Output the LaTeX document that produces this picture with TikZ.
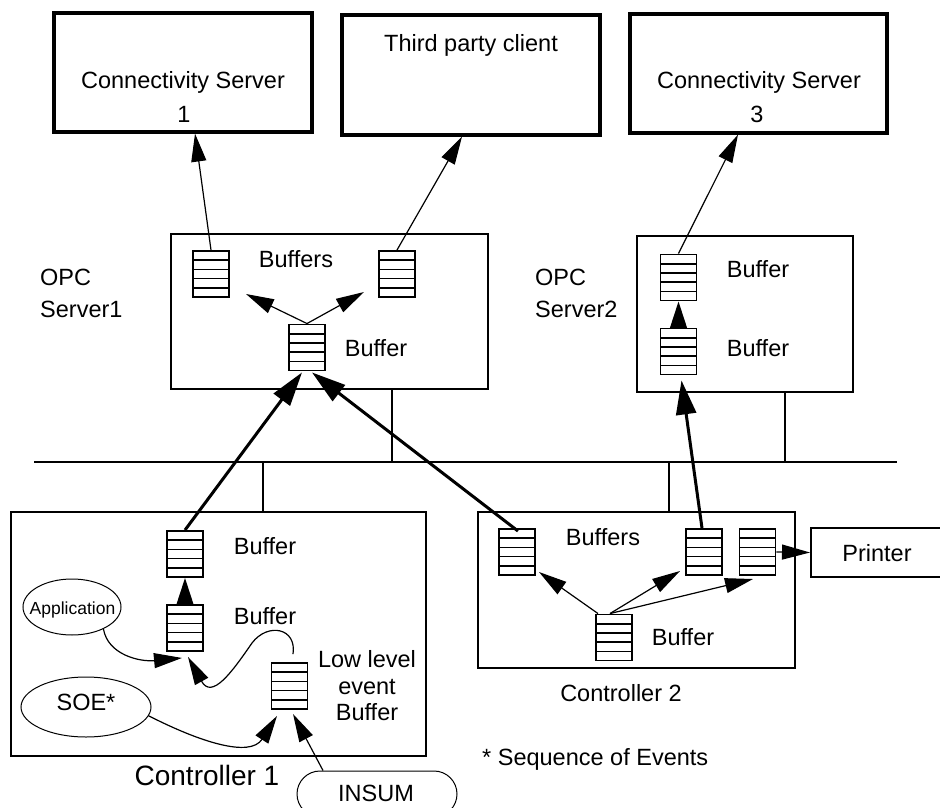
\documentclass[tikz,border=0pt]{standalone}
\usepackage{fontspec}
\setmainfont{Liberation Sans}
\usetikzlibrary{arrows.meta,shapes.geometric}
\begin{document}
\begin{tikzpicture}[x=1pt,y=-1pt,
  lbl/.style={inner sep=0pt, anchor=base, font=\fontsize{23.5}{28}\selectfont},
  topbox/.style={draw, line width=3.2pt, inner sep=0pt},
  box/.style={draw, line width=2pt, inner sep=0pt},
  buf/.style={draw, line width=1.9pt, minimum width=36pt, minimum height=46pt, inner sep=0pt,
    path picture={\foreach \k in {1,2,3,4}{\draw[line width=1.6pt]
      ([yshift=\k*9.2pt]path picture bounding box.south west) --
      ([yshift=\k*9.2pt]path picture bounding box.south east);}}},
  ell/.style={draw, ellipse, line width=1pt, inner sep=0pt},
  arrthin/.style={line width=1.2pt, -{Triangle[length=28pt,width=15pt]}},
  arrmid/.style={line width=2pt, -{Triangle[length=27pt,width=17pt]}},
  arrthick/.style={line width=3pt, -{Triangle[length=34pt,width=20pt]}},
  stub/.style={line width=2.8pt},
]
\useasboundingbox (0,0) rectangle (940,808);

% top clients
\node[topbox, minimum width=258pt, minimum height=119pt] (cs1) at (183,72.5) {};
\node[topbox, minimum width=258pt, minimum height=120pt] (tp) at (471,75) {};
\node[topbox, minimum width=257pt, minimum height=119pt] (cs3) at (758.5,73.5) {};
\node[lbl] (cs1t) at (183,88.4) {Connectivity Server};
\node[lbl] (cs1n) at (184,122) {1};
\node[lbl] (tpt) at (471,52) {Third party client};
\node[lbl] (cs3t) at (759,88.4) {Connectivity Server};
\node[lbl] (cs3n) at (757,122) {3};

% OPC servers
\node[box, minimum width=317pt, minimum height=155pt] (opc1) at (329.5,311.5) {};
\node[box, minimum width=216pt, minimum height=156pt] (opc2) at (745,314) {};
\node[lbl, anchor=west, align=left, font=\fontsize{23.5}{31.7}\selectfont] (opc1t) at (40,293.4) {OPC\\Server1};
\node[lbl, anchor=west, align=left, font=\fontsize{23.5}{31.7}\selectfont] (opc2t) at (535,293.4) {OPC\\Server2};

\node[buf] (b1L) at (211,274) {};
\node[buf] (b1R) at (397,274) {};
\node[buf] (b1M) at (307,347.5) {};
\node[lbl] (b1Lt) at (296,267.7) {Buffers};
\node[lbl] (b1Mt) at (376,356) {Buffer};

\node[buf] (b2U) at (678.5,277.5) {};
\node[buf] (b2L) at (678.5,351.5) {};
\node[lbl] (b2Ut) at (758,277.3) {Buffer};
\node[lbl] (b2Lt) at (758,356) {Buffer};

% bus
\coordinate (busL) at (34,462);
\coordinate (busR) at (897,462);
\draw[line width=2.8pt] (busL) -- (busR);
\coordinate (j1) at (392,462);
\coordinate (j2) at (785,462);
\coordinate (j3) at (263,462);
\coordinate (j4) at (669,462);

% controllers
\node[box, minimum width=415pt, minimum height=244pt] (c1) at (218.5,634) {};
\node[box, minimum width=317pt, minimum height=156pt] (c2) at (636.5,590) {};
\draw[stub] (opc1.south -| j1) -- (j1);
\draw[stub] (opc2.south -| j2) -- (j2);
\draw[stub] (c1.north -| j3) -- (j3);
\draw[stub] (c2.north -| j4) -- (j4);

\node[buf] (b3T) at (185,554) {};
\node[buf] (b3M) at (185,628) {};
\node[buf] (b3L) at (289.5,686) {};
\node[lbl] (b3Tt) at (265,554) {Buffer};
\node[lbl] (b3Mt) at (265,624) {Buffer};
\node[lbl, anchor=center, align=center, font=\fontsize{23.5}{26.5}\selectfont] (b3Lt) at (367,686) {Low level\\event\\Buffer};
\node[ell, minimum width=98pt, minimum height=56pt] (app) at (72,607) {};
\node[lbl, font=\fontsize{17.5}{20}\selectfont] (appt) at (72.5,614.3) {Application};
\node[ell, minimum width=130pt, minimum height=60pt] (soe) at (86,707) {};
\node[lbl] (soet) at (86,710) {SOE*};
\node[draw, line width=1pt, rounded corners=23pt, minimum width=160pt, minimum height=46pt] (insum) at (377,794) {};
\node[lbl] (insumt) at (376,801.7) {INSUM};
\node[lbl, font=\fontsize{28}{32}\selectfont] (c1t) at (207,785) {Controller 1};

\node[buf] (b4L) at (517,552) {};
\node[buf] (b4M) at (704,552) {};
\node[buf] (b4R) at (757.5,552) {};
\node[buf] (b4B) at (614,637.5) {};
\node[lbl] (b4Lt) at (603,545.7) {Buffers};
\node[lbl] (b4Bt) at (683,645.7) {Buffer};
\node[lbl] (c2t) at (621,701.7) {Controller 2};
\node[lbl, anchor=base west] (seq) at (482,765) {* Sequence of Events};

\node[box, minimum width=149pt, minimum height=49pt] (prn) at (885.5,552.5) {};
\node[lbl] (prnt) at (877,561) {Printer};

% connectors: up to clients
\draw[arrthin] (b1L.north) -- ([xshift=12pt]cs1.south);
\draw[arrthin] (b1R.north) -- ([xshift=-9pt]tp.south);
\draw[arrthin] (b2U.north) -- ([xshift=-20.5pt]cs3.south);

% inside OPC1
\coordinate (o1a) at (246,294);
\coordinate (o1b) at (364,292);
\draw[arrthin] (b1M.north) -- (o1a);
\draw[arrthin] (b1M.north) -- (o1b);

% inside OPC2
\draw[arrmid] (b2L.north) -- (b2U.south);

% controllers to OPC servers
\draw[arrthick] (b3T.north) -- ([xshift=-5pt,yshift=-1pt]b1M.south);
\draw[arrthick] ([xshift=1pt,yshift=-3pt]b4L.north) -- ([xshift=5pt,yshift=-1pt]b1M.south);
\draw[arrthick] ([xshift=-2pt]b4M.north) -- ([xshift=3pt,yshift=-5pt]b2L.south);

% inside controller 1
\draw[arrmid] (b3M.north) -- (b3T.south);
\draw[arrthin] (app.-35) .. controls (108,655) and (140,662) .. ([xshift=-3pt,yshift=-6pt]b3M.south);
\draw[arrthin] ([xshift=3.5pt,yshift=8pt]b3L.north) .. controls (297,628) and (268,622) .. (252,643)
   .. controls (232,672) and (212,700) .. ([xshift=3pt,yshift=-5pt]b3M.south);
\draw[arrthin] (soe.-8) .. controls (200,742) and (250,758) .. ([xshift=-12.5pt,yshift=-6pt]b3L.south);
\draw[arrthin] ([xshift=-54pt]insum.north) -- ([xshift=3.5pt,yshift=-4pt]b3L.south);

% inside controller 2
\coordinate (c2a) at (539,572);
\coordinate (c2b) at (680,571);
\coordinate (c2c) at (753,579);
\draw[arrthin] ([xshift=-16pt]b4B.north) -- (c2a);
\draw[arrthin] ([xshift=-4pt]b4B.north) -- (c2b);
\draw[arrthin] ([xshift=-4pt]b4B.north) -- (c2c);
\draw[arrthin] (b4R.east) -- (prn.west);
\end{tikzpicture}
\end{document}
